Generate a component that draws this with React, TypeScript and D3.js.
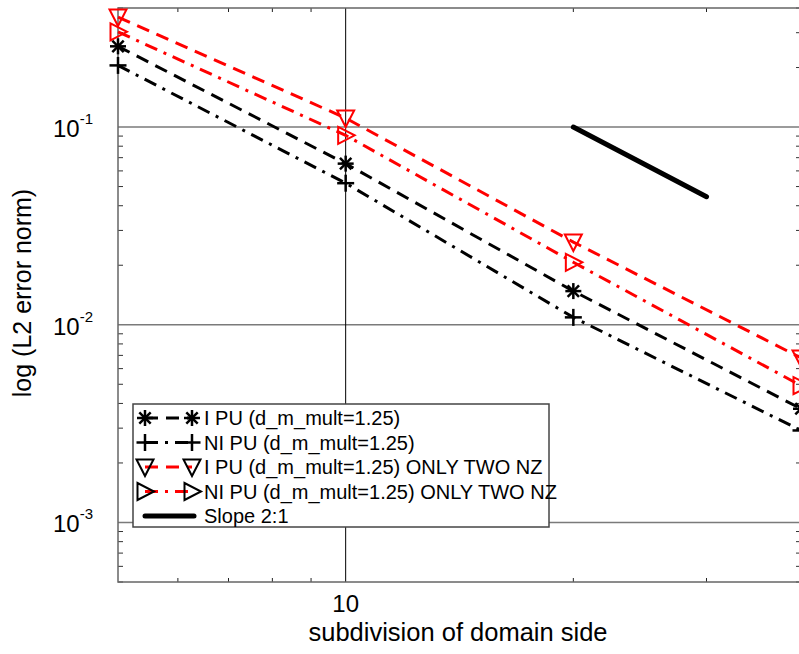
import React from 'react';
import * as d3 from 'd3';

// subdivisions of the domain side
const subdivisions = [5, 10, 20, 40];

// L2 error norms per series
const iPu = [0.256, 0.0653, 0.0148, 0.00376];
const niPu = [0.205, 0.052, 0.0109, 0.00292];
const iPuTwoNz = [0.36, 0.111, 0.0262, 0.0068];
const niPuTwoNz = [0.303, 0.0908, 0.0207, 0.00492];

// reference slope 2:1
const slopeX = [20, 30];
const slopeY = [0.1, 0.0444];

const seriesNames = [
  'I PU (d_m_mult=1.25)',
  'NI PU (d_m_mult=1.25)',
  'I PU (d_m_mult=1.25) ONLY TWO NZ',
  'NI PU (d_m_mult=1.25) ONLY TWO NZ',
  'Slope 2:1',
];

const yTickValues = [0.1, 0.01, 0.001];
const yTickExps = ['-1', '-2', '-3'];
const xTickValues = [10];
const xTickLabels = ['10'];

const FONT = '"Liberation Sans", Arial, Helvetica, sans-serif';

const left = 118, right = 801, top = 8, bottom = 582;

const x = d3.scaleLog().domain([5, 40]).range([left, right]);
const y = d3.scaleLog().domain([5e-4, 0.4]).range([bottom, top]);

const DASH = '13 8';
const DASHDOT = '13 7 3 7';

type MarkerKind = 'star' | 'plus' | 'tdown' | 'tright';

const Marker = ({ kind, cx, cy, color }: { kind: MarkerKind; cx: number; cy: number; color: string }) => {
  if (kind === 'star') {
    const r = 8, d = 5.7;
    return (
      <g stroke={color} strokeWidth={2.5} fill="none">
        <line x1={cx - r} y1={cy} x2={cx + r} y2={cy} />
        <line x1={cx} y1={cy - r} x2={cx} y2={cy + r} />
        <line x1={cx - d} y1={cy - d} x2={cx + d} y2={cy + d} />
        <line x1={cx - d} y1={cy + d} x2={cx + d} y2={cy - d} />
      </g>
    );
  }
  if (kind === 'plus') {
    const r = 8.5;
    return (
      <g stroke={color} strokeWidth={2.5} fill="none">
        <line x1={cx - r} y1={cy} x2={cx + r} y2={cy} />
        <line x1={cx} y1={cy - r} x2={cx} y2={cy + r} />
      </g>
    );
  }
  const pts = kind === 'tdown'
    ? [[-8.5, -7.5], [8.5, -7.5], [0, 9]]
    : [[-7.5, -8.5], [-7.5, 8.5], [9, 0]];
  return (
    <polygon
      points={pts.map(p => `${cx + p[0]},${cy + p[1]}`).join(' ')}
      fill="none"
      stroke={color}
      strokeWidth={2}
      strokeLinejoin="miter"
    />
  );
};

const series = [
  { values: iPu, color: '#000000', dash: DASH, marker: 'star' as MarkerKind, legendMarker: '#000000' },
  { values: niPu, color: '#000000', dash: DASHDOT, marker: 'plus' as MarkerKind, legendMarker: '#000000' },
  { values: iPuTwoNz, color: '#ff0000', dash: DASH, marker: 'tdown' as MarkerKind, legendMarker: '#000000' },
  { values: niPuTwoNz, color: '#ff0000', dash: DASHDOT, marker: 'tright' as MarkerKind, legendMarker: '#000000' },
];

const App = () => {
  const line = d3.line<number>()
    .x((_, i) => x(subdivisions[i]))
    .y(d => y(d));

  const slopeLine = d3.line<number>()
    .x((_, i) => x(slopeX[i]))
    .y(d => y(d));

  const yMinor = y.ticks().filter(v => Math.abs(Math.log10(v) - Math.round(Math.log10(v))) > 1e-9);
  const xMinor = x.ticks().filter(v => v !== 10 && v !== 5 && v !== 40);

  const legendX = 133, legendY = 404, legendW = 416, legendH = 123;
  const rowY = (i: number) => 418 + i * 24.5;

  return (
    <svg
      width={799}
      height={654}
      style={{ position: 'absolute', left: 0, top: 0, background: '#fff' }}
      fontFamily={FONT}
    >
      <rect x={0} y={0} width={799} height={654} fill="#fff" />

      {/* grid */}
      {yTickValues.map(v => (
        <line key={`gy${v}`} x1={left} x2={right} y1={y(v)} y2={y(v)} stroke="#7a7a7a" strokeWidth={1.5} />
      ))}
      {xTickValues.map(v => (
        <line key={`gx${v}`} x1={x(v)} x2={x(v)} y1={top} y2={bottom} stroke="#000" strokeWidth={1} />
      ))}

      {/* minor ticks */}
      {yMinor.map(v => (
        <g key={`my${v}`} stroke="#333" strokeWidth={1}>
          <line x1={left} x2={left + 5} y1={y(v)} y2={y(v)} />
          <line x1={right} x2={right - 5} y1={y(v)} y2={y(v)} />
        </g>
      ))}
      {xMinor.map(v => (
        <g key={`mx${v}`} stroke="#222" strokeWidth={1}>
          <line x1={x(v)} x2={x(v)} y1={bottom} y2={bottom - 4} />
          <line x1={x(v)} x2={x(v)} y1={top} y2={top + 4} />
        </g>
      ))}

      {/* frame */}
      <rect x={left} y={top} width={right - left} height={bottom - top} fill="none" stroke="#666" strokeWidth={1.5} />

      {/* series */}
      {series.map((s, si) => (
        <g key={`s${si}`}>
          <path d={line(s.values) || ''} fill="none" stroke={s.color} strokeWidth={3} strokeDasharray={s.dash} />
          {s.values.map((v, i) => (
            <Marker key={i} kind={s.marker} cx={x(subdivisions[i])} cy={y(v)} color={s.color} />
          ))}
        </g>
      ))}
      <path d={slopeLine(slopeY) || ''} fill="none" stroke="#000" strokeWidth={5} strokeLinecap="round" />

      {/* tick labels */}
      {yTickValues.map((v, i) => (
        <text key={`yl${v}`} x={93} y={y(v) + 10} fontSize={24} textAnchor="end" fill="#000">
          10
          <tspan fontSize={15} dy={-13}>{yTickExps[i]}</tspan>
        </text>
      ))}
      {xTickValues.map((v, i) => (
        <text key={`xl${v}`} x={x(v)} y={612} fontSize={24} textAnchor="middle" fill="#000">{xTickLabels[i]}</text>
      ))}

      {/* axis titles */}
      <text x={458} y={641} fontSize={25.5} textAnchor="middle" fill="#000">subdivision of domain side</text>
      <text transform="translate(31,293) rotate(-90)" fontSize={25} textAnchor="middle" fill="#000">log (L2 error norm)</text>

      {/* legend */}
      <rect x={legendX} y={legendY} width={legendW} height={legendH} fill="#fff" stroke="#444" strokeWidth={1.5} />
      {series.map((s, i) => (
        <g key={`lg${i}`}>
          <line x1={145} x2={192} y1={rowY(i)} y2={rowY(i)} stroke={s.color} strokeWidth={3} strokeDasharray={s.dash} />
          <Marker kind={s.marker} cx={145} cy={rowY(i)} color={s.legendMarker} />
          <Marker kind={s.marker} cx={192} cy={rowY(i)} color={s.legendMarker} />
          <text x={204} y={rowY(i) + 7} fontSize={20} fill="#000">{seriesNames[i]}</text>
        </g>
      ))}
      <line x1={145} x2={194} y1={rowY(4)} y2={rowY(4)} stroke="#000" strokeWidth={5} strokeLinecap="round" />
      <text x={204} y={rowY(4) + 7} fontSize={20} fill="#000">{seriesNames[4]}</text>
    </svg>
  );
};

export default App;
